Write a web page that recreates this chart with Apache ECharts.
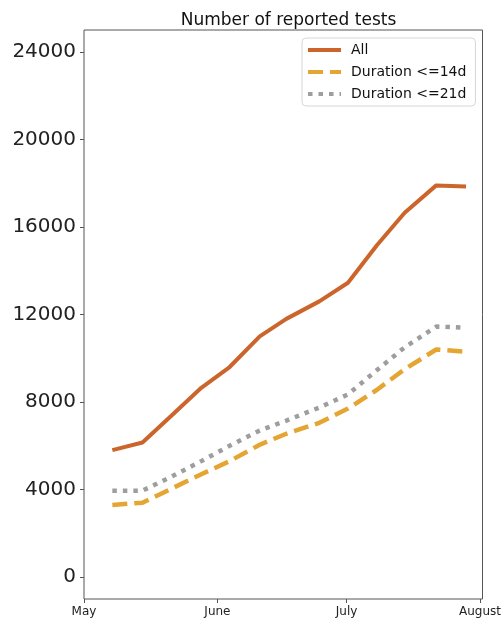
<!DOCTYPE html>
<html>
<head>
    <meta charset="utf-8">
    <title>Number of reported tests</title>
    <script src="https://cdn.jsdelivr.net/npm/echarts@6/dist/echarts.min.js"></script>
</head>
<body style="margin:0;background:#fff">
    <div id="chart" style="width:504px;height:628px;"></div>
    <script type="text/javascript">
        // weekly reporting dates
        var dates = ['2020-05-07 14:00', '2020-05-14 14:00', '2020-05-21 10:00', '2020-05-28 06:00',
                     '2020-06-03 20:00', '2020-06-10 20:00', '2020-06-17 00:00', '2020-06-24 16:00',
                     '2020-07-01 08:00', '2020-07-08 00:00', '2020-07-14 12:00', '2020-07-21 20:00',
                     '2020-07-28 18:00'];
        var allTests = [5800, 6150, 7400, 8650, 9600, 11000, 11800, 12600, 13450, 15150, 16650, 17900, 17850];
        var dur14 = [3300, 3400, 4050, 4700, 5300, 6050, 6550, 7050, 7700, 8550, 9500, 10400, 10300];
        var dur21 = [3950, 3950, 4600, 5300, 6000, 6700, 7150, 7750, 8350, 9450, 10500, 11450, 11400];
        var yTicks = [0, 4000, 8000, 12000, 16000, 20000, 24000];
        var seriesNames = ['All', 'Duration <=14d', 'Duration <=21d'];
        var monthNames = ['January', 'February', 'March', 'April', 'May', 'June', 'July',
                          'August', 'September', 'October', 'November', 'December'];

        function pairs(vals) {
            return dates.map(function (d, i) { return [d, vals[i]]; });
        }

        var myChart = echarts.init(document.getElementById('chart'));
        myChart.setOption({
            animation: false,
            textStyle: {fontFamily: 'DejaVu Sans'},
            title: {
                text: 'Number of reported tests',
                left: 283.5,
                textAlign: 'center',
                top: 7,
                textStyle: {fontSize: 17, fontWeight: 'normal', color: '#111'}
            },
            legend: {
                orient: 'vertical',
                left: 302,
                top: 38,
                padding: [5, 9, 5, 4],
                itemWidth: 33,
                itemHeight: 14,
                itemGap: 8,
                borderColor: '#d6d6d6',
                borderWidth: 1,
                borderRadius: 4,
                itemStyle: {opacity: 0},
                lineStyle: {width: 4, type: 'inherit'},
                textStyle: {fontSize: 14, color: '#111', padding: [0, 0, 0, 5]},
                data: seriesNames
            },
            grid: {
                left: 84, right: 21, top: 30, bottom: 29,
                show: true, borderColor: '#555', borderWidth: 1
            },
            xAxis: {
                type: 'time',
                min: '2020-05-01',
                max: '2020-08-01 14:00',
                minInterval: 28 * 86400000,
                splitLine: {show: false},
                axisLine: {show: false, onZero: false},
                axisTick: {show: true, length: 4, lineStyle: {color: '#555'}},
                axisLabel: {
                    fontSize: 12, color: '#222', margin: 7,
                    formatter: function (v) { return monthNames[new Date(v).getMonth()]; }
                }
            },
            yAxis: {
                type: 'value',
                min: -1000,
                max: 25000,
                splitLine: {show: false},
                axisLine: {show: false},
                axisTick: {show: true, length: 4, customValues: yTicks, lineStyle: {color: '#555'}},
                axisLabel: {
                    fontSize: 20, color: '#222', margin: 8, customValues: yTicks,
                    formatter: function (v) { return String(v); }
                }
            },
            series: [
                {
                    name: seriesNames[0], type: 'line', data: pairs(allTests),
                    showSymbol: false, symbol: 'none',
                    lineStyle: {color: '#cb652c', width: 4},
                    itemStyle: {color: '#cb652c'}
                },
                {
                    name: seriesNames[1], type: 'line', data: pairs(dur14),
                    showSymbol: false, symbol: 'none',
                    lineStyle: {color: '#e5a532', width: 4.5, type: [15, 7]},
                    itemStyle: {color: '#e5a532'}
                },
                {
                    name: seriesNames[2], type: 'line', data: pairs(dur21),
                    showSymbol: false, symbol: 'none',
                    lineStyle: {color: '#9e9e9e', width: 4.5, type: [4.5, 6]},
                    itemStyle: {color: '#9e9e9e'}
                }
            ]
        });
    </script>
</body>
</html>
